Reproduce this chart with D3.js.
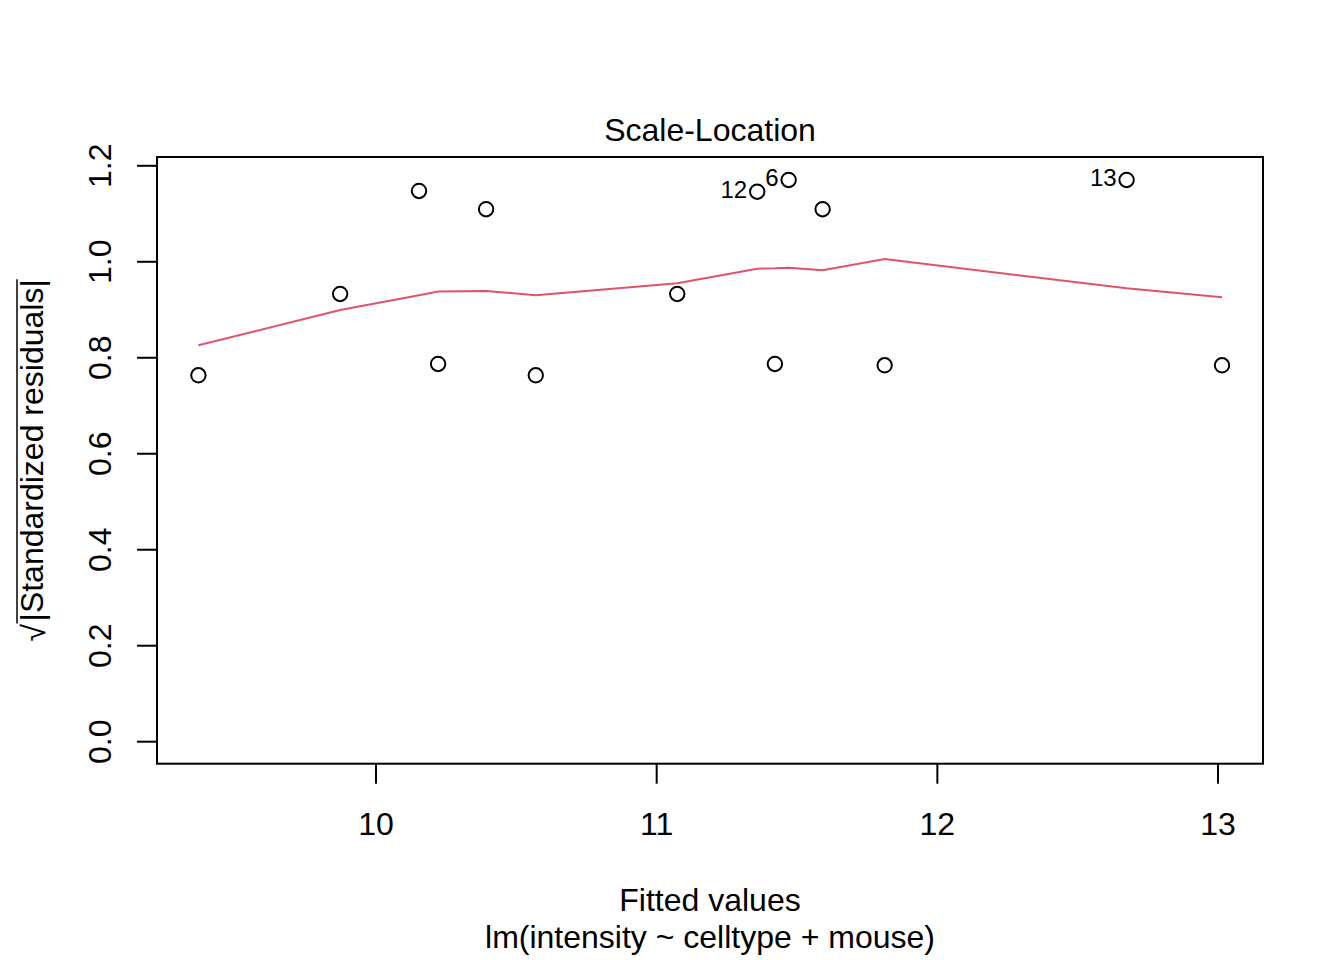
<!DOCTYPE html>
<html>
<head>
<meta charset="utf-8">
<script src="https://cdn.jsdelivr.net/npm/d3@7"></script>
<style>
  body { margin: 0; background: #fff; }
  text { font-family: "Liberation Sans", Arial, Helvetica, sans-serif; fill: #000; }
</style>
</head>
<body>
<div id="chart"></div>
<script>
// Scale-Location plot for lm(intensity ~ celltype + mouse)

var fitted = [9.369, 9.874, 10.155, 10.223, 10.394, 10.571, 11.075,
              11.360, 11.423, 11.472, 11.593, 11.814, 12.676, 13.016];
var sqrtRes = [0.7624, 0.9319, 1.1465, 0.786, 1.1085, 0.7624, 0.9319,
               1.145, 0.786, 1.1694, 1.1085, 0.7833, 1.1694, 0.7833];

// observation labels shown for the 3 largest residuals
var labelIdx = [7, 9, 12];
var labelText = ["12", "6", "13"];

// red smoother (lowess) values at sorted fitted values
var smoothY = [0.825, 0.8985, 0.9291, 0.9369, 0.9381, 0.9294, 0.9542,
               0.9846, 0.9854, 0.9867, 0.9812, 1.0048, 0.9437, 0.925];

var xTicks = [10, 11, 12, 13];
var yTicks = [0, 0.2, 0.4, 0.6, 0.8, 1.0, 1.2];

var width = 1344, height = 960;
var plot = {left: 157, right: 1263, top: 157, bottom: 763.7};

var svg = d3.select("#chart")
  .append("svg")
    .attr("width", width)
    .attr("height", height);

svg.append("rect")
  .attr("width", width)
  .attr("height", height)
  .attr("fill", "#fff");

var x = d3.scaleLinear()
  .domain([9.2215, 13.162])
  .range([plot.left, plot.right]);

var y = d3.scaleLinear()
  .domain([-0.0469, 1.2173])
  .range([plot.bottom, plot.top]);

// smoother
var line = d3.line()
  .x(function(d, i) { return x(fitted[i]); })
  .y(function(d) { return y(d); });

svg.append("path")
  .datum(smoothY)
  .attr("d", line)
  .attr("fill", "none")
  .attr("stroke", "#DF536B")
  .attr("stroke-width", 2);

// points
svg.selectAll(".pt")
  .data(fitted)
  .enter()
  .append("circle")
    .attr("class", "pt")
    .attr("cx", function(d) { return x(d); })
    .attr("cy", function(d, i) { return y(sqrtRes[i]); })
    .attr("r", 7.2)
    .attr("fill", "none")
    .attr("stroke", "#000")
    .attr("stroke-width", 2);

svg.selectAll(".lab")
  .data(labelIdx)
  .enter()
  .append("text")
    .attr("class", "lab")
    .attr("x", function(d) { return x(fitted[d]) - 10; })
    .attr("y", function(d) { return y(sqrtRes[d]) + 6.5; })
    .attr("text-anchor", "end")
    .attr("font-size", 24)
    .text(function(d, i) { return labelText[i]; });

// box
svg.append("rect")
  .attr("x", plot.left)
  .attr("y", plot.top)
  .attr("width", plot.right - plot.left)
  .attr("height", plot.bottom - plot.top)
  .attr("fill", "none")
  .attr("stroke", "#000")
  .attr("stroke-width", 2);

// x axis
var xAxis = svg.append("g")
  .attr("transform", "translate(0," + plot.bottom + ")")
  .call(d3.axisBottom(x).tickValues(xTicks).tickSize(20).tickPadding(0).tickFormat(d3.format("d")));
xAxis.select(".domain").remove();
xAxis.selectAll("line").attr("stroke", "#000").attr("stroke-width", 2);
xAxis.selectAll("text")
  .attr("font-size", 32)
  .attr("dy", null)
  .attr("y", 71);

// y axis
var yAxis = svg.append("g")
  .attr("transform", "translate(" + plot.left + ",0)")
  .call(d3.axisLeft(y).tickValues(yTicks).tickSize(20).tickFormat(d3.format(".1f")));
yAxis.select(".domain").remove();
yAxis.selectAll("line").attr("stroke", "#000").attr("stroke-width", 2);
yAxis.selectAll("text")
  .attr("font-size", 32)
  .attr("x", null)
  .attr("dy", null)
  .attr("text-anchor", "middle")
  .attr("transform", "translate(-46,0) rotate(-90)");

// titles
svg.append("text")
  .attr("x", (plot.left + plot.right) / 2)
  .attr("y", 141)
  .attr("text-anchor", "middle")
  .attr("font-size", 32)
  .text("Scale-Location");

svg.append("text")
  .attr("x", (plot.left + plot.right) / 2)
  .attr("y", 911)
  .attr("text-anchor", "middle")
  .attr("font-size", 32)
  .text("Fitted values");

svg.append("text")
  .attr("x", (plot.left + plot.right) / 2)
  .attr("y", 948)
  .attr("text-anchor", "middle")
  .attr("font-size", 32)
  .text("lm(intensity ~ celltype + mouse)");

// y label: sqrt(|Standardized residuals|)
var yLab = svg.append("g")
  .attr("transform", "translate(43," + ((plot.top + plot.bottom) / 2) + ") rotate(-90)");

var labT = yLab.append("text")
  .attr("text-anchor", "start")
  .attr("font-size", 32)
  .text("|Standardized residuals|");

var labW = labT.node().getComputedTextLength();
var rootW = 20;
var total = rootW + labW;
labT.attr("x", -total / 2 + rootW);

yLab.append("text")
  .attr("x", -total / 2)
  .attr("y", 2)
  .attr("font-size", 32)
  .text("\u221A");

yLab.append("line")
  .attr("x1", -total / 2 + rootW - 2)
  .attr("x2", total / 2)
  .attr("y1", -26)
  .attr("y2", -26)
  .attr("stroke", "#000")
  .attr("stroke-width", 1.5);
</script>
</body>
</html>
